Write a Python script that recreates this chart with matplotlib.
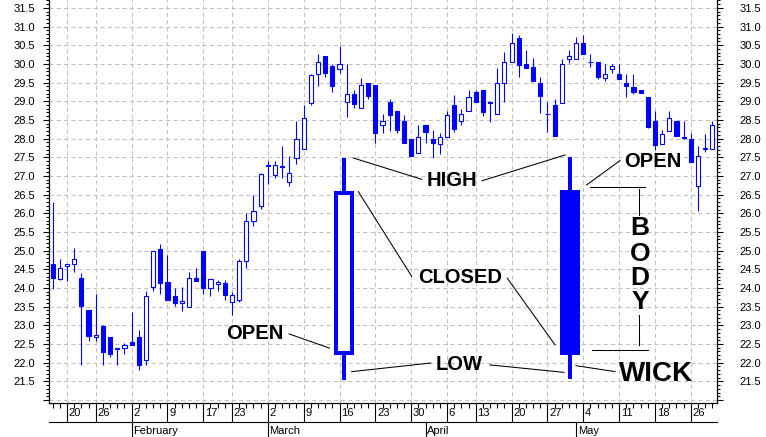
import numpy as np
import pandas as pd
import matplotlib
matplotlib.use('Agg')
import matplotlib.pyplot as plt

plt.rcParams['font.family'] = ['Liberation Sans', 'DejaVu Sans']

# trading days Jan 15 - May 29 2009 (NYSE holidays removed)
holidays = ['2009-01-19', '2009-02-16', '2009-04-10', '2009-05-25']
dates = pd.bdate_range('2009-01-15', '2009-05-29')
dates = dates[~dates.isin(pd.to_datetime(holidays))]

opens = [24.65, 24.24, 24.59, 24.65, 24.27, 23.40, 22.69, 22.97, 22.68, 22.40,
         22.40, 22.54, 22.70, 22.07, 24.03, 25.05, 24.17, 23.79, 23.59, 23.50,
         24.27, 24.98, 24.01, 24.10, 24.14, 23.62, 23.68, 24.72, 25.78, 26.20,
         27.29, 27.03, 27.27, 26.85, 27.47, 27.72, 28.94, 29.73, 30.20, 29.93,
         29.87, 28.98, 29.19, 28.81, 29.50, 29.43, 28.35, 28.98, 28.75, 28.48,
         27.99, 27.62, 28.35, 27.99, 27.86, 28.04, 28.90, 28.48, 28.75, 29.25,
         29.30, 28.97, 28.66, 29.50, 30.05, 30.68, 30.00, 29.91, 29.50, 28.67,
         28.90, 28.94, 30.14, 30.14, 30.55, 30.06, 30.05, 29.61, 29.87, 29.73,
         29.50, 29.37, 29.30, 29.10, 28.48, 27.85, 28.21, 28.48, 28.04, 27.99,
         26.73, 27.73, 27.72]
highs = [26.30, 24.78, 24.65, 25.08, 24.40, 23.40, 23.83, 23.02, 22.70, 22.40,
         22.52, 23.35, 22.88, 23.92, 24.98, 25.17, 24.87, 23.99, 24.03, 24.42,
         24.54, 24.98, 24.24, 24.20, 24.20, 23.90, 24.78, 26.00, 26.50, 27.08,
         27.41, 27.40, 27.81, 27.54, 28.48, 28.89, 29.74, 30.26, 30.20, 30.00,
         30.47, 30.00, 29.30, 29.62, 29.50, 29.43, 28.66, 29.05, 28.75, 28.64,
         27.99, 28.35, 28.35, 28.24, 28.15, 28.75, 29.16, 28.80, 29.30, 29.30,
         29.30, 28.97, 29.89, 30.32, 30.82, 30.77, 30.36, 30.17, 29.64, 28.98,
         29.05, 30.14, 30.36, 30.71, 30.77, 30.26, 30.05, 30.00, 30.00, 30.00,
         29.73, 29.73, 29.30, 29.10, 28.75, 28.24, 28.75, 28.48, 28.46, 28.15,
         27.79, 28.12, 28.48]
lows = [23.98, 24.22, 24.18, 24.42, 21.93, 22.57, 22.57, 21.95, 22.16, 21.93,
        22.22, 22.48, 21.80, 21.93, 23.92, 23.83, 23.67, 23.52, 23.38, 23.50,
        24.18, 23.85, 23.79, 23.92, 23.67, 23.27, 23.62, 24.53, 25.65, 26.12,
        26.78, 26.95, 26.95, 26.73, 27.33, 27.72, 28.91, 29.41, 29.64, 29.26,
        29.75, 28.58, 28.81, 28.81, 29.07, 27.88, 28.15, 28.19, 28.15, 27.89,
        27.54, 27.62, 27.88, 27.49, 27.58, 28.04, 28.17, 28.37, 28.75, 28.99,
        28.60, 28.45, 28.66, 28.99, 30.05, 29.64, 29.88, 29.55, 28.69, 28.17,
        28.07, 28.94, 30.02, 30.14, 30.27, 29.91, 29.60, 29.53, 29.75, 29.60,
        29.10, 29.19, 29.21, 28.27, 27.69, 27.85, 28.21, 28.07, 28.00, 27.38,
        26.05, 27.65, 27.72]
closes = [24.28, 24.54, 24.65, 24.78, 23.52, 22.72, 22.75, 22.28, 22.22, 22.36,
          22.46, 22.48, 21.95, 23.79, 24.98, 24.12, 23.67, 23.61, 23.65, 24.27,
          24.18, 23.99, 24.24, 24.17, 23.82, 23.80, 24.72, 25.78, 26.07, 27.04,
          27.26, 27.30, 27.25, 27.09, 27.99, 28.55, 29.71, 30.05, 29.76, 29.41,
          30.00, 29.19, 28.93, 29.44, 29.14, 28.15, 28.48, 28.64, 28.22, 27.89,
          27.54, 28.05, 28.17, 27.88, 28.03, 28.62, 28.26, 28.67, 29.12, 28.99,
          28.71, 28.95, 29.50, 30.05, 30.55, 29.96, 29.88, 29.55, 29.14, 28.65,
          28.07, 30.00, 30.20, 30.55, 30.27, 30.04, 29.64, 29.73, 29.93, 29.60,
          29.41, 29.25, 29.21, 28.31, 27.83, 28.12, 28.55, 28.07, 28.02, 27.38,
          27.53, 27.75, 28.35]

# the two big example candles used for the labels
demo_x = [40.65, 72.15]
demo_open = [22.25, 26.63]
demo_close = [26.55, 22.21]
demo_high = [27.47, 27.50]
demo_low = [21.54, 21.55]

BLUE = '#0000ff'
W, H = 766, 437
fig = plt.figure(figsize=(W / 100, H / 100), dpi=100)
ax = fig.add_axes([49 / W, 34 / H, 668 / W, 403 / H])

x = np.arange(len(dates))
o = np.array(opens); c = np.array(closes)
hi = np.array(highs); lo = np.array(lows)
up = c >= o
bottom = np.minimum(o, c)
height = np.maximum(np.abs(c - o), 0.005)

ax.vlines(x, lo, hi, color=BLUE, lw=0.8, zorder=2)
ax.bar(x[up], height[up], bottom=bottom[up], width=0.58, facecolor='white',
       edgecolor=BLUE, lw=0.8, zorder=3)
ax.bar(x[~up], height[~up], bottom=bottom[~up], width=0.58, facecolor=BLUE,
       edgecolor=BLUE, lw=0.8, zorder=3)

# example candles
dx = np.array(demo_x)
do = np.array(demo_open); dc = np.array(demo_close)
ax.vlines(dx, demo_low, np.minimum(do, dc), color=BLUE, lw=2.9, zorder=4)
ax.vlines(dx, np.maximum(do, dc), demo_high, color=BLUE, lw=2.9, zorder=4)
ax.bar(dx[0], dc[0] - do[0], bottom=do[0], width=2.23, facecolor='white',
       edgecolor=BLUE, lw=2.9, zorder=5)
ax.bar(dx[1], do[1] - dc[1], bottom=dc[1], width=2.79, facecolor=BLUE,
       edgecolor=BLUE, lw=0, zorder=5)

# labels and pointer lines
tk = dict(fontsize=14.5, fontweight='bold', ha='center', va='center', zorder=6)
ax.text(55.69, 26.89, 'HIGH', **tk)
ax.text(56.81, 24.27, 'CLOSED', **tk)
ax.text(28.12, 22.77, 'OPEN', **tk)
ax.text(56.67, 21.94, 'LOW', **tk)
ax.text(83.73, 27.38, 'OPEN', **tk)
ax.text(84.15, 21.70, 'WICK', fontsize=20, fontweight='bold', ha='center',
        va='center', zorder=6)
for letter, ly in zip('BODY', [25.60, 24.91, 24.27, 23.62]):
    ax.text(81.91, ly, letter, fontsize=19, fontweight='bold', ha='center',
            va='center', zorder=6)

segs = [
    ((41.92, 27.48), (51.46, 26.91)),
    ((59.87, 26.87), (71.45, 27.56)),
    ((42.62, 26.58), (50.07, 24.31)),
    ((63.40, 24.26), (70.05, 22.48)),
    ((32.96, 22.77), (38.58, 22.39)),
    ((41.70, 21.76), (52.72, 21.99)),
    ((60.99, 21.94), (71.31, 21.74)),
    ((74.48, 26.76), (79.12, 27.41)),
    ((74.94, 26.70), (82.61, 26.70)),
    ((81.81, 26.65), (81.81, 25.96)),
    ((81.81, 23.28), (81.81, 22.48)),
    ((75.17, 22.34), (83.07, 22.34)),
    ((72.98, 21.92), (78.43, 21.76)),
]
for (x0, y0), (x1, y1) in segs:
    ax.plot([x0, x1], [y0, y1], color='black', lw=0.75, zorder=6)

ax.set_xlim(-0.52, 92.65)
ax.set_ylim(20.92, 31.71)

# y axis, both sides
yt = np.arange(21.0, 31.51, 0.5)
ax.set_yticks(yt)
ax.set_yticks(np.arange(21.0, 31.71, 0.1), minor=True)
ax.set_yticklabels(['' if v < 21.4 else f'{v:.1f}' for v in yt])
ax.tick_params(axis='y', which='major', length=4, width=0.8, labelsize=8, pad=6)
ax.tick_params(axis='y', which='minor', length=2, width=0.8)
ax2 = ax.twinx()
ax2.set_ylim(ax.get_ylim())
ax2.set_yticks(yt)
ax2.set_yticks(np.arange(21.0, 31.71, 0.1), minor=True)
ax2.set_yticklabels(['' if v < 21.4 else f'{v:.1f}' for v in yt])
ax2.tick_params(axis='y', which='major', length=4, width=0.8, labelsize=8, pad=12)
ax2.tick_params(axis='y', which='minor', length=2, width=0.8)

# x axis: week starts and month starts
wk = pd.Series(dates.isocalendar().week.values)
week_start = [i for i in range(1, len(dates)) if wk[i] != wk[i - 1]]
month_start = [i for i in range(1, len(dates)) if dates[i].month != dates[i - 1].month]

ax.set_xticks(week_start)
ax.set_xticks(x, minor=True)
ax.set_xticklabels([])
ax.tick_params(axis='x', which='major', length=13.7, width=0.8)
ax.tick_params(axis='x', which='minor', length=3.6, width=0.8)

trans = ax.get_xaxis_transform()
for i in week_start:
    ax.annotate(str(dates[i].day), (i, -0.0248), xycoords=trans,
                xytext=(1.3, 0), textcoords='offset points',
                fontsize=8, ha='left', va='center')
for i in month_start:
    ax.plot([i, i], [-0.0471, -0.09], color='black', lw=0.8,
            transform=trans, clip_on=False)
    ax.annotate(dates[i].strftime('%B'), (i, -0.0695), xycoords=trans,
                xytext=(1.3, 0), textcoords='offset points',
                fontsize=8, ha='left', va='center')
ax.plot([0, 1], [-0.0471, -0.0471], color='black', lw=0.8,
        transform=ax.transAxes, clip_on=False)

ax.grid(True, which='major', color='#c0c0c0', linestyle=(0, (4, 3)), lw=0.75)
ax.set_axisbelow(True)
for a in (ax, ax2):
    a.spines['top'].set_visible(False)
    for s in ('left', 'right', 'bottom'):
        a.spines[s].set_linewidth(0.8)

fig.savefig('out.png', dpi=100)
